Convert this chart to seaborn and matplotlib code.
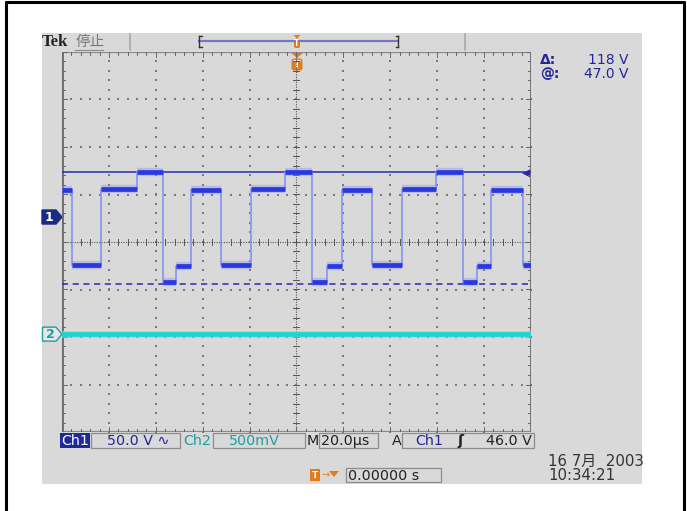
import numpy as np
import pandas as pd
import matplotlib
matplotlib.use("Agg")
import matplotlib.pyplot as plt
import seaborn as sns
from matplotlib.patches import Rectangle, Polygon, FancyBboxPatch

# ---------------- data ----------------
ch1_edges_us = [-95.9, -83.2, -68.2, -57.1, -51.2, -44.8, -32.0, -19.2, -4.7, 6.8,
                12.8, 19.6, 32.0, 44.8, 59.7, 71.2, 76.8, 83.1, 96.4]
ch1_levels_v = [28, -50, 30, 47, -68, -52, 28, -50, 30, 47,
                -68, -52, 28, -50, 30, 47, -68, -52, 28, -50]
ch2_times_us = [-100.0, 100.0]
ch2_levels_v = [0.0, 0.0]
cursor_levels_v = [47.0, -71.0]       # Δ 118 V, @ 47.0 V
trigger_level_v = 46.0
ch1_scale_v = 50.0                     # V/div
ch2_scale_v = 0.5                      # V/div
ch1_pos_div = 0.526
ch2_pos_div = -1.94
time_per_div_us = 20.0
readout_cursor = ["Δ:", "118 V", "@:", "47.0 V"]
status_texts = ["Ch1", "50.0 V ∿", "Ch2", "500mV", "M", "20.0µs", "A", "Ch1", "ʃ", "46.0 V"]
date_text = ["16 7月  2003", "10:34:21"]
trig_pos_text = "0.00000 s"

W, H = 687, 511
fig = plt.figure(figsize=(W / 100, H / 100), dpi=100)
fig.patch.set_facecolor("white")

# pixel-coordinate background axes
bg = fig.add_axes([0, 0, 1, 1])
bg.set_xlim(0, W)
bg.set_ylim(H, 0)
bg.axis("off")

# outer frame
bg.plot([6, 6], [1.5, H], color="black", lw=2.2, solid_capstyle="butt")
bg.plot([684, 684], [1.5, H], color="black", lw=2.2, solid_capstyle="butt")
bg.plot([5, 685], [2, 2], color="black", lw=2.2, solid_capstyle="butt")

SCREEN = "#d9d9d9"
bg.add_patch(Rectangle((42, 33), 600, 451, facecolor=SCREEN, edgecolor="none"))

NAVY = "#25259a"
TEAL = "#1f9e9e"
ORANGE = "#e27a1e"
DARK = "#222222"

# top bar
bg.text(42, 42.5, "Tek", fontsize=12, fontweight="bold", color="#222222",
        va="center", ha="left", family=["Liberation Serif"])
bg.text(75, 42, "停止", fontsize=10.5, color="#777777", va="center", ha="left",
        family=["Noto Sans CJK SC", "DejaVu Sans"])
bg.plot([75, 103], [50, 50], color="#888888", lw=0.8)
for xs in (130, 465):
    bg.plot([xs, xs], [34, 50], color="#a8a8a8", lw=1.2)
bg.plot([199, 397], [41.5, 41.5], color="#7676c0", lw=1.6)
bg.plot([199, 199], [36, 47], color="#333333", lw=1.0)
bg.plot([199, 201.5], [36, 36], color="#333333", lw=1.0)
bg.plot([199, 201.5], [47, 47], color="#333333", lw=1.0)
bg.plot([398, 398], [36, 47], color="#333333", lw=1.0)
bg.plot([395.5, 398], [36, 36], color="#333333", lw=1.0)
bg.plot([395.5, 398], [47, 47], color="#333333", lw=1.0)
bg.add_patch(Polygon([[293.5, 35], [300.5, 35], [297, 38.5]], closed=True,
                     facecolor=ORANGE, edgecolor="none"))
bg.add_patch(FancyBboxPatch((294, 38.5), 6, 9.5, boxstyle="round,pad=0,rounding_size=2",
                            facecolor=ORANGE, edgecolor="none"))
bg.text(297, 43.5, "T", fontsize=5.5, color="white", ha="center", va="center", fontweight="bold")

# cursor readouts
bg.text(540, 60, readout_cursor[0], fontsize=10, color=NAVY, ha="left", va="center", fontweight="bold")
bg.text(628, 60, readout_cursor[1], fontsize=10, color=NAVY, ha="right", va="center")
bg.text(540, 74, readout_cursor[2], fontsize=10, color=NAVY, ha="left", va="center", fontweight="bold")
bg.text(628, 74, readout_cursor[3], fontsize=10, color=NAVY, ha="right", va="center")

# ---------------- graticule axes ----------------
GL, GR, GT, GB = 62, 531, 52, 432
ax = fig.add_axes([GL / W, (H - GB) / H, (GR - GL) / W, (GB - GT) / H])
ax.set_facecolor("none")
xmin, xmax = -5 * time_per_div_us, 5 * time_per_div_us
ax.set_xlim(xmin, xmax)
ax.set_ylim(-4, 4)
ax.axis("off")

px_x = (xmax - xmin) / (GR - GL)   # µs per pixel
px_y = 8.0 / (GB - GT)             # div per pixel
GRID = "#7a7a7a"
minor_x = np.arange(xmin, xmax + 1e-9, time_per_div_us / 5)
minor_y = np.arange(-4, 4 + 1e-9, 0.2)

# dotted grid on major lines
for xv in np.arange(xmin + time_per_div_us, xmax - 1e-9, time_per_div_us):
    if abs(xv) < 1e-9:
        continue
    ax.scatter(np.full(len(minor_y), xv), minor_y, s=1.5, color=GRID, marker="s", lw=0, zorder=1)
for yv in np.arange(-3, 4):
    if yv == 0:
        continue
    ax.scatter(minor_x, np.full(len(minor_x), yv), s=1.5, color=GRID, marker="s", lw=0, zorder=1)

# center cross with ticks
ax.plot([xmin, xmax], [0, 0], color="#555555", lw=0.8, ls=(0, (1, 1.2)), zorder=1)
ax.plot([0, 0], [-4, 4], color="#555555", lw=0.8, ls=(0, (1, 1.2)), zorder=1)
for xv in minor_x:
    ax.plot([xv, xv], [-3 * px_y, 3 * px_y], color="#555555", lw=0.7, zorder=1)
for yv in minor_y:
    ax.plot([-3 * px_x, 3 * px_x], [yv, yv], color="#555555", lw=0.7, zorder=1)

# border + edge ticks
ax.plot([xmin, xmax], [4, 4], color="#8a8a8a", lw=1.6, zorder=2)
ax.plot([xmin, xmax], [-4, -4], color="#8a8a8a", lw=1.6, zorder=2)
ax.plot([xmin, xmin], [-4, 4], color="#6a6a6a", lw=2.0, zorder=2)
ax.plot([xmax, xmax], [-4, 4], color="#6a6a6a", lw=2.0, zorder=2)
for xv in minor_x:
    ln = 5 if abs(xv / time_per_div_us - round(xv / time_per_div_us)) < 1e-6 else 3
    ax.plot([xv, xv], [4, 4 - ln * px_y], color="#666666", lw=0.7, zorder=2)
    ax.plot([xv, xv], [-4, -4 + ln * px_y], color="#666666", lw=0.7, zorder=2)
for yv in minor_y:
    ln = 5 if abs(yv - round(yv)) < 1e-6 else 3
    ax.plot([xmin, xmin + ln * px_x], [yv, yv], color="#666666", lw=0.7, zorder=2)
    ax.plot([xmax, xmax - ln * px_x], [yv, yv], color="#666666", lw=0.7, zorder=2)

# ---------------- traces ----------------
def v2div1(v):
    return v / ch1_scale_v + ch1_pos_div

starts = [xmin] + ch1_edges_us
ends = ch1_edges_us + [xmax]
ts, ys = [], []
for s, e, lv in zip(starts, ends, ch1_levels_v):
    ts += [s, e]
    ys += [v2div1(lv), v2div1(lv)]
df1 = pd.DataFrame({"t": ts, "div": ys})

# cursors
ax.plot([xmin, xmax], [v2div1(cursor_levels_v[0])] * 2, color="#2a2aa8", lw=1.1, zorder=3)
ax.plot([xmin, xmax], [v2div1(cursor_levels_v[1])] * 2, color="#2a2aa8", lw=1.1,
        ls=(0, (4, 3)), zorder=3)

# ch1: faint edges + thick noisy plateaus
sns.lineplot(data=df1, x="t", y="div", sort=False, estimator=None, ax=ax,
             color="#8e98f0", lw=1.3, zorder=4, legend=False)
ax.hlines([v2div1(l) for l in ch1_levels_v], starts, ends, color="#7b86f5",
          lw=6.0, alpha=0.35, zorder=4)
ax.hlines([v2div1(l) for l in ch1_levels_v], starts, ends, color="#2a38e0",
          lw=3.4, zorder=5)

# ch2
df2 = pd.DataFrame({"t": ch2_times_us, "div": [v / ch2_scale_v + ch2_pos_div for v in ch2_levels_v]})
sns.lineplot(data=df2, x="t", y="div", sort=False, estimator=None, ax=ax,
             color="#6fe6e6", lw=5.0, alpha=0.6, zorder=4, legend=False)
sns.lineplot(data=df2, x="t", y="div", sort=False, estimator=None, ax=ax,
             color="#1fd3d3", lw=3.4, zorder=5, legend=False)
ax.set_xlabel("")
ax.set_ylabel("")
ax.axis("off")

# trigger level arrow (right)
ty = GB - (v2div1(trigger_level_v) + 4) / px_y
bg.add_patch(Polygon([[522, ty], [530, ty - 4], [530, ty + 4]], closed=True,
                     facecolor="#2a2aa8", edgecolor="none", zorder=6))

# trigger position marker in graticule
bg.add_patch(Polygon([[291, 53], [303, 53], [297, 58]], closed=True,
                     facecolor=ORANGE, edgecolor="none", zorder=6))
bg.add_patch(FancyBboxPatch((291.5, 58.5), 11, 12, boxstyle="round,pad=0,rounding_size=2.5",
                            facecolor=ORANGE, edgecolor="none", zorder=6))
bg.text(297, 64.5, "T", fontsize=8, color="white", ha="center", va="center",
        fontweight="bold", zorder=7)

# channel ground markers
y1 = GB - (ch1_pos_div + 4) / px_y
bg.add_patch(Polygon([[42, y1 - 7], [56, y1 - 7], [62, y1], [56, y1 + 7], [42, y1 + 7]],
                     closed=True, facecolor="#1c2a80", edgecolor="#1c2a80", zorder=6))
bg.text(49, y1 + 0.5, "1", fontsize=9, color="white", fontweight="bold",
        ha="center", va="center", zorder=7)
y2 = GB - (ch2_pos_div + 4) / px_y
bg.add_patch(Polygon([[42.5, y2 - 7], [56, y2 - 7], [62, y2], [56, y2 + 7], [42.5, y2 + 7]],
                     closed=True, facecolor="#e6e6e6", edgecolor=TEAL, lw=1.0, zorder=6))
bg.text(50, y2 + 0.5, "2", fontsize=9, color=TEAL, fontweight="bold",
        ha="center", va="center", zorder=7)

# ---------------- bottom status bar ----------------
FS = 10.3
def box(x0, x1, y0=433.5, y1=448):
    bg.add_patch(Rectangle((x0, y0), x1 - x0, y1 - y0, facecolor="none",
                           edgecolor="#8c8c8c", lw=0.9, zorder=5))

YS = 441
bg.add_patch(Rectangle((60, 433.5), 30, 14.5, facecolor="#1f2a96", edgecolor="none", zorder=5))
bg.text(61.5, YS, status_texts[0], fontsize=FS, color="white", ha="left", va="center", zorder=6)
box(91, 180)
bg.text(107, YS, status_texts[1], fontsize=FS, color=NAVY, ha="left", va="center", zorder=6)
bg.text(183, YS, status_texts[2], fontsize=FS, color=TEAL, ha="left", va="center", zorder=6)
box(213, 305)
bg.text(229, YS, status_texts[3], fontsize=FS, color=TEAL, ha="left", va="center", zorder=6)
bg.text(307, YS, status_texts[4], fontsize=FS, color=DARK, ha="left", va="center", zorder=6)
box(319, 378)
bg.text(321, YS, status_texts[5], fontsize=FS, color=DARK, ha="left", va="center", zorder=6)
bg.text(392, YS, status_texts[6], fontsize=FS, color=DARK, ha="left", va="center", zorder=6)
box(402, 534)
bg.text(415, YS, status_texts[7], fontsize=FS, color=NAVY, ha="left", va="center", zorder=6)
bg.text(457, YS, status_texts[8], fontsize=FS, color=DARK, ha="left", va="center",
        fontweight="bold", zorder=6)
bg.text(532, YS, status_texts[9], fontsize=FS, color=DARK, ha="right", va="center", zorder=6)

# date / time
bg.text(548, 461.5, date_text[0], fontsize=10.8, color="#333333", ha="left", va="center",
        family=["DejaVu Sans", "Noto Sans CJK SC"])
bg.text(548, 475.5, date_text[1], fontsize=10.8, color="#333333", ha="left", va="center")

# trigger position readout
bg.add_patch(Rectangle((310, 469), 10, 12, facecolor=ORANGE, edgecolor="none"))
bg.text(315, 475.3, "T", fontsize=6.5, color="white", ha="center", va="center", fontweight="bold")
bg.text(321, 475, "→", fontsize=7, color=ORANGE, ha="left", va="center")
bg.add_patch(Polygon([[329, 471], [339, 471], [334, 477]], closed=True,
                     facecolor=ORANGE, edgecolor="none"))
bg.add_patch(Rectangle((346, 468.5), 95, 14, facecolor="none", edgecolor="#8c8c8c", lw=0.9))
bg.text(348, 475.5, trig_pos_text, fontsize=FS, color=DARK, ha="left", va="center")

fig.savefig("out.png", dpi=100, facecolor="white")
